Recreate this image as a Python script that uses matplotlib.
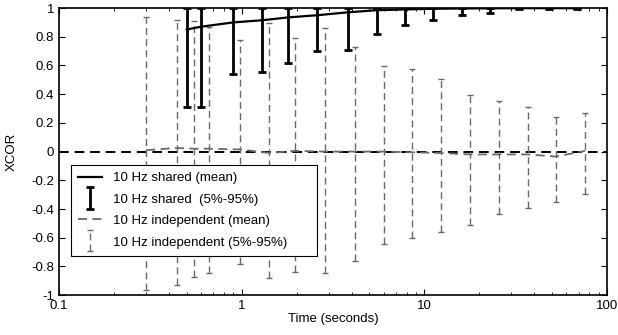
import matplotlib
matplotlib.use("Agg")
import matplotlib.pyplot as plt
from matplotlib.container import ErrorbarContainer
from matplotlib.legend_handler import HandlerErrorbar
from matplotlib.ticker import FixedLocator, FixedFormatter, LogLocator, NullFormatter

plt.rcParams['font.family'] = ['Liberation Sans', 'DejaVu Sans']

# 10 Hz shared: window length (s), mean XCOR, 5% and 95% quantiles
shared_t = [0.5, 0.6, 0.9, 1.3, 1.8, 2.6, 3.8, 5.5, 7.8, 11.2, 16, 23, 33, 48, 69]
shared_mean = [0.85, 0.87, 0.90, 0.915, 0.935, 0.95, 0.97, 0.985, 0.99, 0.995,
               0.997, 0.998, 0.999, 0.999, 0.999]
shared_lo = [0.31, 0.31, 0.54, 0.554, 0.62, 0.70, 0.707, 0.82, 0.88, 0.92,
             0.95, 0.963, 0.99, 0.99, 0.99]
shared_hi = [1.0] * 15

# 10 Hz independent: window length (s), mean XCOR, 5% and 95% quantiles
indep_t = [0.3, 0.44, 0.55, 0.66, 0.98, 1.42, 1.96, 2.86, 4.15, 6.04, 8.59,
           12.4, 17.8, 25.6, 36.9, 52.7, 76]
indep_mean = [0.01, 0.025, 0.02, 0.02, 0.015, -0.01, 0.005, 0.0, 0.0, 0.0,
              -0.005, -0.01, -0.02, -0.02, -0.02, -0.035, 0.005]
indep_lo = [-0.965, -0.93, -0.872, -0.849, -0.786, -0.879, -0.842, -0.849,
            -0.761, -0.647, -0.60, -0.559, -0.514, -0.436, -0.396, -0.35, -0.296]
indep_hi = [0.94, 0.916, 0.91, 0.865, 0.777, 0.897, 0.789, 0.858, 0.73,
            0.598, 0.575, 0.505, 0.394, 0.352, 0.312, 0.238, 0.266]

y_ticks = [-1, -0.8, -0.6, -0.4, -0.2, 0, 0.2, 0.4, 0.6, 0.8, 1]
y_labels = ['-1', '-0.8', '-0.6', '-0.4', '-0.2', '0', '0.2', '0.4', '0.6', '0.8', '1']
x_ticks = [0.1, 1, 10, 100]
x_labels = ['0.1', '1', '10', '100']

gray = '#6a6a6a'

fig = plt.figure(figsize=(6.18, 3.35), dpi=100)
ax = fig.add_axes([0.0955, 0.119, 0.8865, 0.857])

ax.axhline(0, color='black', linestyle=(0, (5, 3)), linewidth=1.4, zorder=1)

# independent: dashed gray bars and mean
ind_err = [[m - l for m, l in zip(indep_mean, indep_lo)],
           [h - m for m, h in zip(indep_mean, indep_hi)]]
eb_i = ax.errorbar(indep_t, indep_mean, yerr=ind_err, fmt='none', ecolor=gray,
                   elinewidth=1.0, capsize=2.5, capthick=1.0, zorder=2,
                   label='10 Hz independent (5%-95%)')
eb_i[2][0].set_linestyle((0, (5, 3)))
ln_i, = ax.plot(indep_t, indep_mean, color=gray, linestyle=(0, (5, 3)),
                linewidth=1.3, zorder=2, label='10 Hz independent (mean)')

# shared: solid black bars and mean
sh_err = [[m - l for m, l in zip(shared_mean, shared_lo)],
          [h - m for m, h in zip(shared_mean, shared_hi)]]
eb_s = ax.errorbar(shared_t, shared_mean, yerr=sh_err, fmt='none', ecolor='black',
                   elinewidth=2.0, capsize=3, capthick=2.0, zorder=3,
                   label='10 Hz shared  (5%-95%)')
ln_s, = ax.plot(shared_t, shared_mean, color='black', linewidth=1.6, zorder=3,
                label='10 Hz shared (mean)')

ax.set_xscale('log')
ax.set_xlim(0.1, 100)
ax.set_ylim(-1, 1)
ax.xaxis.set_major_locator(FixedLocator(x_ticks))
ax.xaxis.set_major_formatter(FixedFormatter(x_labels))
ax.xaxis.set_minor_locator(LogLocator(base=10, subs=range(2, 10)))
ax.xaxis.set_minor_formatter(NullFormatter())
ax.yaxis.set_major_locator(FixedLocator(y_ticks))
ax.yaxis.set_major_formatter(FixedFormatter(y_labels))

ax.tick_params(which='both', direction='in', top=True, right=True, labelsize=9.5)
ax.tick_params(which='major', length=4, width=0.8)
ax.tick_params(which='minor', length=2.5, width=0.6)
for s in ax.spines.values():
    s.set_linewidth(1.2)

ax.set_xlabel('Time (seconds)', fontsize=9.5, labelpad=1)
ax.set_ylabel('XCOR', fontsize=9.5)
ax.yaxis.set_label_coords(-0.075, 0.5)

leg = ax.legend([ln_s, eb_s, ln_i, eb_i],
                ['10 Hz shared (mean)', '10 Hz shared  (5%-95%)',
                 '10 Hz independent (mean)', '10 Hz independent (5%-95%)'],
                handler_map={ErrorbarContainer: HandlerErrorbar(xerr_size=0.3, yerr_size=0.8)},
                loc='lower left', bbox_to_anchor=(0.022, 0.137, 0.448, 0.32),
                mode='expand', borderaxespad=0,
                fancybox=False, edgecolor='black', framealpha=1, fontsize=9.5,
                handlelength=1.8, handletextpad=0.8, labelspacing=0.7,
                borderpad=0.55)
leg.get_frame().set_linewidth(0.8)

fig.savefig('out.png', dpi=100)
